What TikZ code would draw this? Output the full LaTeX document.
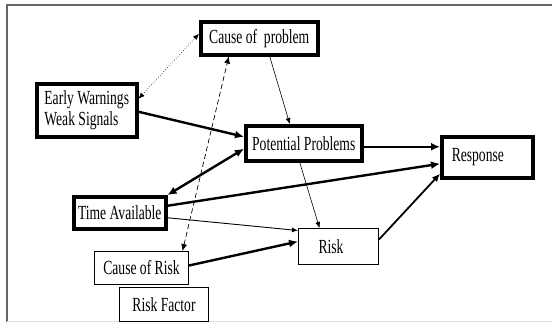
\documentclass[tikz,border=0pt]{standalone}
\usepackage{fontspec}
\setmainfont{Liberation Serif}[FakeStretch=0.68]
\usetikzlibrary{arrows.meta}
\begin{document}
\begin{tikzpicture}[x=1pt,y=-1pt,
  font=\fontsize{20}{20.7}\selectfont,
  thickbox/.style={draw, line width=3.5pt, anchor=north west, inner sep=0pt},
  thinbox/.style={draw, line width=1pt, anchor=north west, inner sep=0pt},
  heavy/.style={line width=2.4pt, -{Latex[length=9pt,width=8pt]}},
  heavyboth/.style={line width=2.4pt, {Latex[length=9pt,width=8pt]}-{Latex[length=9pt,width=8pt]}},
  medium/.style={line width=1.8pt, -{Latex[length=8pt,width=7pt]}},
  light/.style={line width=0.6pt, -{Latex[length=6pt,width=5pt]}},
  dotboth/.style={line width=0.6pt, dotted, {Latex[length=6pt,width=5pt]}-{Latex[length=6pt,width=5pt]}},
  dashboth/.style={line width=0.7pt, dash pattern=on 5pt off 3pt, {Latex[length=7pt,width=6pt]}-{Latex[length=7pt,width=6pt]}}
]
\useasboundingbox (0,0) rectangle (552,322);
\draw[gray!80!black, line width=1.5pt] (552,5) -- (7,5) -- (7,322);
\draw[black!12, line width=1pt] (7,321) -- (552,321);

\node[thickbox, minimum width=117pt, minimum height=33pt] (cp) at (199,20) {Cause of\ \ problem};
\node[thickbox, minimum width=100pt, minimum height=53pt, align=left] (ew) at (35,82) {Early Warnings\\Weak Signals};
\node[thickbox, minimum width=116pt, minimum height=35pt] (pp) at (244,124) {Potential Problems};
\node[thickbox, minimum width=91pt, minimum height=41pt, text width=71pt, inner xsep=10pt, align=left] (resp) at (440,135) {Response};
\node[thickbox, minimum width=92pt, minimum height=32pt] (ta) at (72,195) {Time Available};
\node[thinbox, minimum width=94pt, minimum height=33pt] (cr) at (94,251) {Cause of Risk};
\node[thinbox, minimum width=89pt, minimum height=34pt] (rf) at (119,287) {Risk Factor};
\node[thinbox, minimum width=80pt, minimum height=36pt, text width=60pt, inner xsep=10pt, align=left] (risk) at (298,228) {\hspace{10pt}Risk};

\draw[dotboth] ([yshift=11.5pt]ew.east) -- ([yshift=4.5pt]cp.west);
\draw[heavy] ([yshift=-1.5pt]ew.east) -- ([yshift=6.5pt]pp.west);
\draw[light] ([xshift=10.5pt]cp.south) -- ([xshift=-14pt]pp.north);
\draw[heavyboth] (ta.north east) -- ([yshift=-5.5pt]pp.west);
\draw[heavy] ([yshift=7pt]ta.east) -- ([yshift=-6.5pt]resp.west);
\draw[heavy] ([yshift=-3.5pt]pp.east) -- ([yshift=10.5pt]resp.west);
\draw[light, line width=0.9pt] ([yshift=-5pt]ta.east) -- ([yshift=16pt]risk.west);
\draw[heavy] ([yshift=2.5pt]cr.east) -- ([yshift=5pt]risk.west);
\draw[light] ([xshift=-4pt]pp.south) -- ([xshift=-19pt]risk.north);
\draw[medium] ([yshift=7pt]risk.east) -- ([yshift=-16.5pt]resp.west);
\draw[dashboth] ([xshift=41pt]cr.north) -- ([xshift=-30.5pt]cp.south);
\end{tikzpicture}
\end{document}
